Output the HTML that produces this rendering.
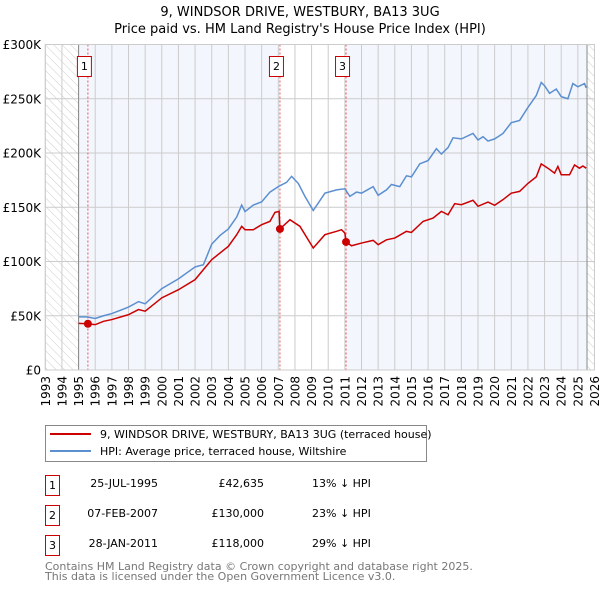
<!DOCTYPE html>
<html><head><meta charset="utf-8"><style>
body{margin:0;background:#fff;width:600px;height:590px;overflow:hidden;font-family:"DejaVu Sans","Liberation Sans",sans-serif;}
svg text{font-family:"DejaVu Sans","Liberation Sans",sans-serif;}
</style></head><body>
<svg id="c" width="600" height="590" xmlns="http://www.w3.org/2000/svg">
<defs><pattern id="hatch" width="6" height="6" patternUnits="userSpaceOnUse" patternTransform="rotate(-45)"><line x1="0" y1="0" x2="0" y2="6" stroke="#ccc" stroke-width="1"/></pattern></defs>
<text x="300" y="16" text-anchor="middle" font-size="13">9, WINDSOR DRIVE, WESTBURY, BA13 3UG</text>
<text x="300" y="33" text-anchor="middle" font-size="13">Price paid vs. HM Land Registry's House Price Index (HPI)</text>
<g id="plot"></g>
<g>
<rect x="45.5" y="425.5" width="381" height="36" fill="#fff" stroke="#888"/>
<line x1="50" y1="434" x2="91" y2="434" stroke="#cc0000" stroke-width="2"/>
<text x="100" y="438" font-size="11">9, WINDSOR DRIVE, WESTBURY, BA13 3UG (terraced house)</text>
<line x1="50" y1="451" x2="91" y2="451" stroke="#5b8fd0" stroke-width="2"/>
<text x="100" y="455" font-size="11">HPI: Average price, terraced house, Wiltshire</text>
</g>
<g font-size="11">
<rect x="45.5" y="475.5" width="14" height="20" fill="none" stroke="#c00"/><text x="52.5" y="489" text-anchor="middle">1</text>
<text x="158" y="487" text-anchor="end">25-JUL-1995</text><text x="264" y="487" text-anchor="end">£42,635</text><text x="312" y="487">13% ↓ HPI</text>
<rect x="45.5" y="505.5" width="14" height="20" fill="none" stroke="#c00"/><text x="52.5" y="519" text-anchor="middle">2</text>
<text x="158" y="517" text-anchor="end">07-FEB-2007</text><text x="264" y="517" text-anchor="end">£130,000</text><text x="312" y="517">23% ↓ HPI</text>
<rect x="45.5" y="535.5" width="14" height="20" fill="none" stroke="#c00"/><text x="52.5" y="549" text-anchor="middle">3</text>
<text x="158" y="547" text-anchor="end">28-JAN-2011</text><text x="264" y="547" text-anchor="end">£118,000</text><text x="312" y="547">29% ↓ HPI</text>
</g>
<text x="45" y="570" font-size="11" fill="#777">Contains HM Land Registry data © Crown copyright and database right 2025.</text>
<text x="45" y="580" font-size="11" fill="#777">This data is licensed under the Open Government Licence v3.0.</text>
</svg>
<script>
const hpiYears=[1995,1995.5,1996,1996.5,1997,1998,1998.6,1999,2000,2001,2002,2002.5,2003,2003.5,2004,2004.5,2004.8,2005,2005.5,2006,2006.5,2007,2007.5,2007.8,2008.2,2008.6,2009.1,2009.8,2010.5,2011,2011.3,2011.7,2012,2012.7,2013,2013.5,2013.8,2014.3,2014.7,2015,2015.5,2016,2016.5,2016.8,2017.2,2017.5,2018,2018.7,2019,2019.3,2019.6,2020,2020.5,2021,2021.5,2022,2022.5,2022.8,2023,2023.3,2023.7,2024,2024.4,2024.7,2025,2025.4,2025.5];
const hpiValues=[49,49,47.5,50,52,58,63,61,75,84,95,97,116,124,130,141,152,146,152,155,164,169,173,178.5,172,160,147,163,166,167,160,164,163,169,161,166,171,169,179,178,190,193,204,199,205,214,213,218,212,215,211,213,218,228,230,242,253,265,262,255,259,252,250,264,261,264,260];
const paidYears=[1995,1995.5,1996,1996.5,1997,1998,1998.6,1999,2000,2001,2002,2002.5,2003,2004,2004.5,2004.8,2005,2005.5,2006,2006.5,2006.8,2007.05,2007.1,2007.7,2008.3,2009.1,2009.8,2010.5,2010.8,2011,2011.07,2011.4,2012,2012.7,2013,2013.5,2014,2014.7,2015,2015.7,2016.3,2016.8,2017.2,2017.6,2018,2018.7,2019,2019.6,2020,2020.5,2021,2021.5,2022,2022.5,2022.8,2023.2,2023.6,2023.8,2024,2024.5,2024.8,2025.1,2025.3,2025.5];
const paidValues=[43,42.6,41.8,44.9,46.5,51,55.7,54.2,66.5,74,83.3,92.5,101.7,114,124.7,132.4,129.3,129.3,133.9,137,145.3,146.2,130,138.5,132.4,112.4,124.7,127.8,129.3,126.2,118,114.5,117,119.5,115.5,120,121.6,127.8,126.8,137,140,146.2,143.1,153.3,152.3,156.4,150.9,154.8,151.8,157,163,164.6,172,178,190,186,181.5,187.6,180,180,189,186,188,186];
const saleYears=[1995.56,2007.1,2011.07];
const saleValues=[42.635,130,118];
const saleLabels=["1","2","3"];
const yTicks=[0,50,100,150,200,250,300];
const yTickLabels=["£0","£50K","£100K","£150K","£200K","£250K","£300K"];
const xStart=1993,xEnd=2026;
const X0=45.3,X1=594.5,Y0=370,Y1=44.5;
const xs=y=>X0+(y-xStart)/(xEnd-xStart)*(X1-X0);
const ys=v=>Y0-v/300*(Y0-Y1);
const NS="http://www.w3.org/2000/svg";
const g=document.getElementById('plot');
function mk(t,a){const e=document.createElementNS(NS,t);for(const k in a)e.setAttribute(k,a[k]);g.appendChild(e);return e;}
let e;
e=mk('rect',{x:X0,y:Y1,width:X1-X0,height:Y0-Y1,fill:'#fff'});


e=mk('rect',{x:xs(1995),y:Y1,width:xs(saleYears[1])-xs(1995),height:Y0-Y1,fill:'#f3f6fd'});


e=mk('rect',{x:xs(saleYears[2]),y:Y1,width:xs(2025.55)-xs(saleYears[2]),height:Y0-Y1,fill:'#f3f6fd'});


e=mk('rect',{x:X0,y:Y1,width:xs(1995)-X0,height:Y0-Y1,fill:'url(#hatch)'});


e=mk('rect',{x:xs(2025.55),y:Y1,width:X1-xs(2025.55),height:Y0-Y1,fill:'url(#hatch)'});


for(let yr=xStart;yr<=xEnd;yr++){
 e=mk('line',{x1:xs(yr),x2:xs(yr),y1:Y1,y2:Y0,stroke:'#ccc','stroke-width':1});
 
 
 e=mk('text',{x:0,y:0,'font-size':12,'text-anchor':'end',transform:`translate(${xs(yr)+4.5},376) rotate(-90)`});
 e.textContent=yr;
 
 
}
yTicks.forEach((t,i)=>{
 e=mk('line',{x1:X0,x2:X1,y1:ys(t),y2:ys(t),stroke:'#ccc','stroke-width':1});
 
 
 e=mk('text',{x:41,y:ys(t)+4.5,'font-size':12,'text-anchor':'end'});
 e.textContent=yTickLabels[i];
 
 
});
e=mk('line',{x1:xs(1995),x2:xs(1995),y1:Y1,y2:Y0,stroke:'#888'});


e=mk('line',{x1:xs(2025.55),x2:xs(2025.55),y1:Y1,y2:Y0,stroke:'#888'});


saleYears.forEach((s,i)=>{
 e=mk('line',{x1:xs(s),x2:xs(s),y1:Y1,y2:Y0,stroke:'#e55','stroke-dasharray':'2,2','stroke-width':1});
 
 
});
e=mk('polyline',{points:hpiYears.map((y,i)=>xs(y)+','+ys(hpiValues[i])).join(' '),fill:'none',stroke:'#5b8fd0','stroke-width':1.5});


e=mk('polyline',{points:paidYears.map((y,i)=>xs(y)+','+ys(paidValues[i])).join(' '),fill:'none',stroke:'#cc0000','stroke-width':1.5});


saleYears.forEach((s,i)=>{
 e=mk('circle',{cx:xs(s),cy:ys(saleValues[i]),r:4,fill:'#cc0000'});
 
 
 e=mk('rect',{x:xs(s)-10.5,y:56.5,width:14,height:20,fill:'#fff',stroke:'#c00'});
 
 
 e=mk('text',{x:xs(s)-3.5,y:70,'font-size':11,'text-anchor':'middle'});
 e.textContent=saleLabels[i];
 
 
});
e=mk('rect',{x:X0,y:Y1,width:X1-X0,height:Y0-Y1,fill:'none',stroke:'#ccc'});


</script>
</body></html>
